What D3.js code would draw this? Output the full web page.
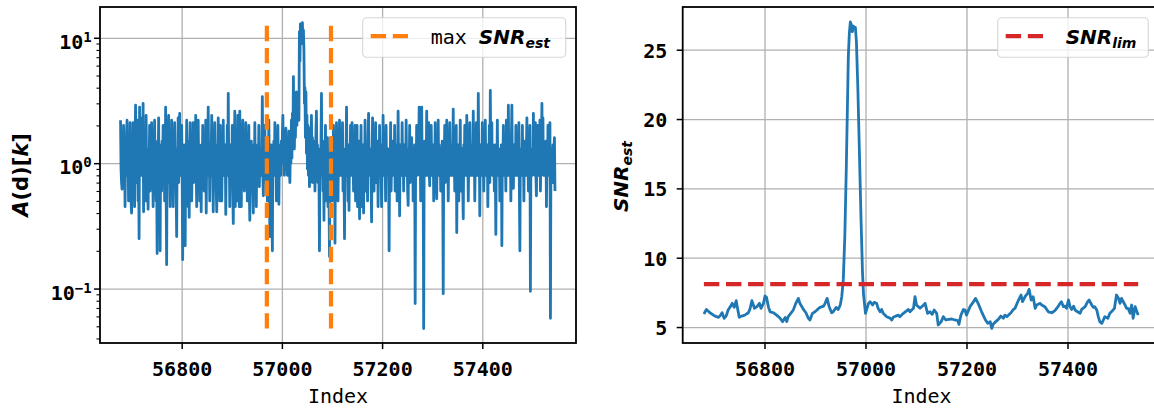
<!DOCTYPE html>
<html><head><meta charset="utf-8">
<script src="https://cdn.jsdelivr.net/npm/d3@7/dist/d3.min.js"></script>
<style>
body{margin:0;background:#fff}
svg{display:block}
</style></head><body>
<svg id="c" width="1154" height="409"></svg>
<script>
// ---------- data ----------
const ampStart = 56678;
const amplitude = [
2.2,.9,.7,.62,1.3,.8,2.0,.75,1.4,.45,1.2,.8,1.8,2.2,.8,1.4,.5,1.1,.55,2.1,
.9,.5,.4,1.2,.8,2.1,.85,1.3,.45,1.5,2.9,.9,1.4,.7,2.2,.5,1.2,.25,2.8,.8,
1.3,.8,2.3,.9,1.2,3.0,.41,1.4,.8,1.1,.5,2.4,.9,1.3,.8,.43,1.2,.8,2.0,.6,
1.2,.8,2.1,.9,1.4,.45,1.1,.8,2.2,.7,1.3,.5,1.0,.19,1.5,.8,2.3,.6,1.4,.2,
1.3,.8,.6,1.5,.9,2.0,.7,1.4,.5,1.1,2.8,.6,.155,1.3,.9,1.5,2.4,.7,1.2,.45,
1.4,.8,2.2,.8,1.5,.45,1.2,.8,2.1,.9,1.3,.6,.26,1.2,.8,2.3,.7,1.1,2.5,.9,
1.3,.8,2.0,.8,.17,1.2,.9,1.4,.6,.22,1.1,.8,2.2,.9,1.3,.45,1.5,.37,1.2,2.1,
.8,1.4,.5,1.1,.9,2.1,.7,1.3,.8,1.2,2.4,.9,.45,1.5,.8,2.2,.8,1.4,.5,1.3,
.9,.41,1.4,.8,2.0,.8,1.4,.6,1.1,.9,2.2,.4,1.3,.8,1.2,2.8,.8,1.4,.5,1.1,
.8,1.3,2.4,.8,1.2,.41,1.5,.8,2.1,.9,1.4,.6,.41,1.4,.8,2.3,.9,1.2,.5,2.0,
.8,1.3,.5,1.1,.9,2.2,.8,1.2,.8,1.4,.39,1.1,.8,2.0,.9,3.6,.8,1.2,.45,1.4,
.8,1.1,.9,2.0,.6,.33,1.3,.8,2.6,.45,1.2,.8,1.6,.5,2.4,.8,1.3,.45,2.6,.9,
1.2,.45,1.5,.8,2.2,.8,1.3,.6,1.1,.9,2.1,.8,1.2,.5,1.4,.8,2.0,.6,.35,1.3,
.8,1.5,.7,1.2,.6,.4,1.4,.8,2.1,.9,1.4,.45,1.3,.8,1.2,.8,2.0,.65,1.1,.9,
1.3,.8,1.2,3.4,.8,.55,1.4,.9,2.0,.7,1.4,.8,1.3,.5,1.1,.9,2.2,.7,.26,1.2,
.8,1.4,.6,.2,1.3,.9,1.5,.8,2.1,1.0,1.3,.5,1.2,.9,2.0,.8,.47,1.3,.9,1.4,
.8,1.5,1.1,1.7,2.4,1.0,1.4,.8,1.6,1.2,1.9,.9,1.3,.8,1.5,1.1,1.8,.9,.7,1.4,
1.0,2.2,1.1,2.5,1.4,4.9,1.8,1.3,2.8,1.6,3.2,3.7,2.0,3.4,2.4,3.0,2.2,11.2,6.5,12.9,
9.0,13.0,10.5,13.2,9.0,11.5,8.0,3.0,4.0,1.6,3.7,1.2,2.4,.9,2.0,.8,1.9,.65,1.8,.7,
1.3,2.4,.9,1.6,.7,1.2,.8,1.5,.6,1.1,1.8,2.6,.9,1.4,.7,1.2,.8,.2,1.3,.9,
1.4,3.6,.8,1.2,.6,1.1,.35,1.5,.7,2.0,.5,1.2,.8,1.6,.45,1.1,.6,.18,1.3,.7,
1.2,1.6,.5,1.3,.8,2.0,.6,1.1,.23,1.2,.8,2.1,.9,1.4,.5,1.3,.8,2.2,.8,1.2,
.8,1.4,.9,2.1,.6,1.1,.8,.25,1.3,.8,1.1,2.8,.8,1.2,.5,1.4,.42,1.3,.9,2.0,
.8,1.2,2.1,.8,1.4,.6,1.1,.9,2.0,.5,1.3,.8,2.0,.45,1.2,.8,1.5,.36,1.3,.8,
2.0,.45,1.2,.8,1.4,.4,1.1,.9,2.2,.6,1.3,.8,1.2,.5,1.5,2.5,.9,1.3,.8,1.1,
.8,.34,1.3,2.3,.9,1.4,.6,1.2,.8,2.1,.7,1.1,.9,1.5,.45,1.3,.8,2.0,.8,1.4,
.9,.45,1.2,.8,2.4,.9,1.5,.8,1.2,.5,2.0,.8,1.1,.8,1.3,.9,.2,1.2,.8,2.1,
.6,1.1,.9,1.5,.8,1.3,.8,2.0,.6,1.4,.9,1.4,.5,1.1,2.6,.8,1.2,.38,1.4,.9,
1.3,.8,2.1,.9,1.4,.6,1.4,.8,1.1,.8,2.2,.9,1.2,.6,.46,1.3,.8,2.0,.7,1.2,
.9,1.6,.8,1.3,.5,1.1,.8,1.4,.076,1.2,.8,2.0,.8,1.1,.9,1.3,2.8,.8,1.4,.5,
1.2,2.8,.9,1.3,.8,.048,1.1,1.5,.8,1.2,.9,2.6,.8,1.4,.8,2.1,.9,.66,1.3,.8,
2.0,.9,1.2,.8,1.4,.5,1.1,.9,2.1,.6,1.2,.52,1.5,.8,2.2,.8,1.4,.9,1.2,.6,
1.3,.8,1.5,.8,.091,1.2,.9,2.0,.7,1.1,.8,2.2,.9,1.3,.5,1.2,.8,2.1,.8,1.1,
.9,1.4,.8,1.2,2.7,.8,1.3,.6,1.1,.9,2.0,.28,1.2,.8,1.4,.5,1.1,.9,2.2,.6,
1.2,.8,1.3,.6,.36,1.4,.9,2.0,.8,1.5,.8,2.4,.9,1.3,.5,1.1,.8,2.1,.8,1.2,
.9,1.4,.8,1.2,2.6,.8,1.3,.5,1.1,.9,2.1,.8,1.2,.8,3.6,1.0,1.3,.38,1.4,.8,
1.2,.8,2.1,.9,1.1,.6,1.3,.8,2.2,.8,1.2,.9,1.4,.45,1.1,.8,2.0,.7,3.8,.9,
1.2,2.1,.8,1.3,.8,1.1,.6,1.4,.9,.27,1.2,.8,2.2,.8,1.1,.9,1.3,.5,1.2,.8,
1.4,.22,1.2,.8,2.0,.8,1.3,.9,1.1,.6,2.2,.8,1.2,.8,2.9,1.0,1.4,.8,1.2,.5,
1.5,2.9,.9,1.2,.63,1.4,.8,1.1,.8,2.0,.9,1.6,.8,1.2,.8,2.1,.6,.2,1.3,.9,
1.1,.8,2.0,.8,1.2,.5,1.5,.9,1.1,.8,1.3,2.3,.9,1.2,.6,1.1,.8,2.0,.095,1.2,
.8,1.3,.8,1.1,2.5,.9,1.4,.8,2.1,.8,.55,1.3,.9,2.0,.8,1.2,.8,2.2,.6,1.1,
1.3,3.0,.9,2.3,.8,1.4,.8,1.2,.9,1.5,.45,1.1,.8,2.0,.8,1.2,.9,2.1,.058,1.3,
.8,1.2,.7,1.4,.9,1.3,1.6,.6
];
const snrIndex = [
56680,56685,56692,56699,56705,56709,56713,56716,56720,56724,56728,56733,56736,56740,56744,56746,56750,56755,56761,56768,
56771,56775,56778,56780,56785,56790,56793,56798,56801,56804,56808,56811,56818,56824,56831,56836,56841,56844,56847,56852,
56857,56862,56867,56870,56874,56877,56882,56887,56890,56895,56900,56905,56910,56917,56920,56924,56928,56933,56936,56942,
56946,56950,56953,56956,56959,56962,56964,56966,56968,56970,56972,56974,56976,56978,56980,56982,56985,56988,56991,56994,
56996,57000,57006,57009,57014,57017,57022,57025,57029,57032,57035,57042,57049,57052,57055,57060,57065,57068,57075,57082,
57085,57088,57095,57098,57101,57108,57115,57118,57123,57128,57132,57136,57141,57144,57150,57154,57159,57165,57171,57177,
57183,57185,57189,57194,57197,57200,57207,57214,57218,57223,57230,57237,57242,57247,57250,57253,57258,57263,57268,57273,
57276,57280,57283,57288,57293,57296,57303,57308,57311,57316,57321,57324,57328,57332,57336,57339,57346,57349,57355,57362,
57369,57375,57382,57385,57388,57392,57395,57398,57402,57405,57408,57412,57415,57420,57425,57428,57435,57440,57443,57448,
57451,57454,57458,57461,57464,57468,57471,57474,57480,57484,57487,57493,57497,57501,57504,57507,57514,57517,57520,57524,
57527,57530,57534,57540
];
const snrValue = [
5.94,6.27,6.03,5.86,5.75,5.70,5.86,6.03,5.63,5.79,6.23,6.51,6.71,6.42,6.90,6.47,5.70,5.79,5.86,6.03,
6.27,6.90,6.59,6.35,6.47,6.71,6.35,6.71,7.24,7.14,6.42,6.10,6.03,5.86,5.63,5.39,5.70,5.39,5.75,5.99,
6.23,6.71,7.07,6.71,6.47,6.27,6.03,5.63,5.51,5.99,6.10,6.27,6.42,6.51,6.71,7.07,6.47,6.03,6.10,6.42,
6.27,6.59,7.19,8.4,11.5,16.5,20.5,24.5,26.2,27.0,26.8,26.3,26.7,26.6,26.6,25.6,22.0,17.5,13.0,9.0,
7.4,5.99,6.71,6.83,6.59,6.78,6.71,6.35,6.10,6.27,5.99,5.75,5.63,5.51,5.70,5.79,5.86,5.75,5.99,6.18,
6.27,6.10,6.35,7.19,6.59,6.35,6.59,6.71,5.99,6.10,5.92,6.23,5.99,5.15,5.39,5.75,5.51,5.55,5.58,5.51,
5.46,5.19,5.86,6.27,6.23,5.86,6.47,6.83,7.07,6.71,6.10,5.55,5.27,5.39,4.9,5.22,5.39,5.55,5.79,5.63,
5.86,5.75,5.86,6.03,6.27,6.35,6.95,7.31,6.83,7.19,7.43,7.72,6.95,7.19,6.35,6.59,6.71,6.59,6.47,6.10,
6.03,6.18,6.51,6.71,6.83,6.47,6.51,6.35,6.95,6.47,6.27,6.51,6.23,6.10,5.99,6.27,6.47,6.83,6.95,6.59,
6.42,6.47,6.23,5.75,5.39,5.27,5.51,5.75,5.63,5.99,6.10,6.35,7.31,7.07,6.71,7.07,6.59,6.35,6.35,5.99,
6.59,5.63,6.47,5.86
];
const maxSnrLines = [56970, 57098];
const snrLimit = 8.1;
const xTickValues = [56800, 57000, 57200, 57400];
const logTickValues = [0.1, 1, 10];
const logTickExponents = ["\u22121", "0", "1"];
const snrTickValues = [5, 10, 15, 20, 25];
const legendLeftPrefix = "max ";
const legendLeftMath = ["SNR", "est"];
const legendRightMath = ["SNR", "lim"];
const xLabel = "Index";

// ---------- style ----------
const BLUE = "#1f77b4", ORANGE = "#ff7f0e", RED = "#d62728", GRID = "#b0b0b0";
const MONO = "'DejaVu Sans Mono', monospace";
const SANS = "'DejaVu Sans', sans-serif";
const DASH = "15.4,6.7";

const svg = d3.select("#c");

// ---------- panel geometry ----------
const L = {x0: 100, x1: 576, y0: 7, y1: 343};
const R = {x0: 682.7, x1: 1160.4, y0: 7, y1: 343};

const xL = d3.scaleLinear().domain([56637, 57587]).range([L.x0, L.x1]);
const yL = d3.scaleLog().domain([0.0368, 17.6]).range([L.y1, L.y0]);
const xR = d3.scaleLinear().domain([56638, 57584]).range([R.x0, R.x1]);
const yR = d3.scaleLinear().domain([3.85, 28.08]).range([R.y1, R.y0]);

const defs = svg.append("defs");
[["clipL", L], ["clipR", R]].forEach(([id, P]) => {
  defs.append("clipPath").attr("id", id).append("rect")
    .attr("x", P.x0).attr("y", P.y0).attr("width", P.x1 - P.x0).attr("height", P.y1 - P.y0);
});

function styleAxis(g, w) {
  g.select(".domain").remove();
  g.selectAll(".tick line").attr("stroke", "#000").attr("stroke-width", w);
}
function grid(g) {
  g.select(".domain").remove();
  g.selectAll(".tick line").attr("stroke", GRID).attr("stroke-width", 1.3);
  g.selectAll(".tick text").remove();
}

// ===== LEFT PANEL =====
svg.append("g").attr("transform", `translate(0,${L.y1})`)
  .call(d3.axisBottom(xL).tickValues(xTickValues).tickSize(-(L.y1 - L.y0)).tickFormat(""))
  .call(grid);
svg.append("g").attr("transform", `translate(${L.x0},0)`)
  .call(d3.axisLeft(yL).tickValues(logTickValues).tickSize(-(L.x1 - L.x0)).tickFormat(""))
  .call(grid);

const ampIdx = amplitude.map((v, i) => ampStart + i);
const lineL = d3.line().x((d, i) => xL(ampIdx[i])).y(d => yL(d));
svg.append("path").datum(amplitude).attr("clip-path", "url(#clipL)")
  .attr("d", lineL).attr("fill", "none").attr("stroke", BLUE)
  .attr("stroke-width", 2.8).attr("stroke-linejoin", "round");

const aMin = d3.min(amplitude), aMax = d3.max(amplitude);
svg.append("g").selectAll("line").data(maxSnrLines).join("line")
  .attr("x1", d => xL(d)).attr("x2", d => xL(d))
  .attr("y1", yL(aMin)).attr("y2", yL(aMax))
  .attr("stroke", ORANGE).attr("stroke-width", 4.2).attr("stroke-dasharray", DASH);

svg.append("g").attr("transform", `translate(0,${L.y1})`)
  .call(d3.axisBottom(xL).tickValues(xTickValues).tickSize(6).tickFormat(d3.format("d")))
  .call(g => styleAxis(g, 1.5))
  .call(g => g.selectAll(".tick text").attr("font-family", MONO).attr("font-weight", "bold")
     .attr("font-size", 20).attr("fill", "#000").attr("dy", null).attr("y", 33));

svg.append("g").attr("transform", `translate(${L.x0},0)`)
  .call(d3.axisLeft(yL).tickValues(logTickValues).tickSize(6).tickFormat(""))
  .call(g => styleAxis(g, 1.5))
  .call(g => g.selectAll(".tick").each(function(d, i) {
      const t = d3.select(this).append("text").attr("x", -8.3).attr("y", 0)
        .attr("text-anchor", "end").attr("fill", "#000")
        .attr("font-family", MONO).attr("font-weight", "bold");
      t.append("tspan").attr("font-size", 20).attr("dy", 10.5).text("10");
      t.append("tspan").attr("font-size", 14).attr("dy", -7).text(logTickExponents[i]);
  }));
const minorVals = yL.ticks().filter(v => !logTickValues.some(m => Math.abs(m - v) < 1e-9));
svg.append("g").attr("transform", `translate(${L.x0},0)`)
  .call(d3.axisLeft(yL).tickValues(minorVals).tickSize(3.5).tickFormat(""))
  .call(g => styleAxis(g, 1.1));

svg.append("rect").attr("x", L.x0).attr("y", L.y0).attr("width", L.x1 - L.x0).attr("height", L.y1 - L.y0)
  .attr("fill", "none").attr("stroke", "#000").attr("stroke-width", 1.8);

svg.append("text").attr("x", (L.x0 + L.x1) / 2).attr("y", 403).attr("text-anchor", "middle")
  .attr("font-family", MONO).attr("font-size", 20).attr("fill", "#000").text(xLabel);
{
  const t = svg.append("text").attr("transform", `translate(28,${(L.y0 + L.y1) / 2}) rotate(-90)`)
    .attr("text-anchor", "middle").attr("font-family", SANS).attr("font-weight", "bold")
    .attr("font-size", 21).attr("fill", "#000");
  t.append("tspan").attr("font-style", "italic").text("A");
  t.append("tspan").text("(d)[");
  t.append("tspan").attr("font-style", "italic").text("k");
  t.append("tspan").text("]");
}

function legend(box, color, prefix, math) {
  const g = svg.append("g");
  g.append("rect").attr("x", box.x).attr("y", box.y).attr("width", box.w).attr("height", box.h)
    .attr("rx", 4).attr("fill", "#fff").attr("fill-opacity", 0.8)
    .attr("stroke", "#cccccc").attr("stroke-opacity", 0.8).attr("stroke-width", 1.1);
  g.append("line").attr("x1", box.x + 8).attr("x2", box.x + 45.3)
    .attr("y1", box.y + 18.5).attr("y2", box.y + 18.5)
    .attr("stroke", color).attr("stroke-width", 4.2).attr("stroke-dasharray", DASH);
  const t = g.append("text").attr("x", box.tx).attr("y", box.y + 26)
    .attr("font-size", 20).attr("fill", "#000");
  if (prefix) t.append("tspan").attr("font-family", MONO).attr("xml:space", "preserve").text(prefix);
  t.append("tspan").attr("font-family", SANS).attr("font-weight", "bold").attr("font-style", "italic").text(math[0]);
  t.append("tspan").attr("font-family", SANS).attr("font-weight", "bold").attr("font-style", "italic")
    .attr("font-size", 14).attr("dy", 4).text(math[1]);
}
legend({x: 362.7, y: 17.7, w: 203, h: 39.6, tx: 430.7}, ORANGE, legendLeftPrefix, legendLeftMath);

// ===== RIGHT PANEL =====
svg.append("g").attr("transform", `translate(0,${R.y1})`)
  .call(d3.axisBottom(xR).tickValues(xTickValues).tickSize(-(R.y1 - R.y0)).tickFormat(""))
  .call(grid);
svg.append("g").attr("transform", `translate(${R.x0},0)`)
  .call(d3.axisLeft(yR).tickValues(snrTickValues).tickSize(-(R.x1 - R.x0)).tickFormat(""))
  .call(grid);

const lineR = d3.line().x((d, i) => xR(snrIndex[i])).y(d => yR(d));
svg.append("path").datum(snrValue).attr("clip-path", "url(#clipR)")
  .attr("d", lineR).attr("fill", "none").attr("stroke", BLUE)
  .attr("stroke-width", 2.8).attr("stroke-linejoin", "round");

svg.append("line").attr("x1", xR(d3.min(snrIndex))).attr("x2", xR(d3.max(snrIndex)))
  .attr("y1", yR(snrLimit)).attr("y2", yR(snrLimit))
  .attr("stroke", RED).attr("stroke-width", 4.2).attr("stroke-dasharray", DASH);

svg.append("g").attr("transform", `translate(0,${R.y1})`)
  .call(d3.axisBottom(xR).tickValues(xTickValues).tickSize(6).tickFormat(d3.format("d")))
  .call(g => styleAxis(g, 1.5))
  .call(g => g.selectAll(".tick text").attr("font-family", MONO).attr("font-weight", "bold")
     .attr("font-size", 20).attr("fill", "#000").attr("dy", null).attr("y", 33));

svg.append("g").attr("transform", `translate(${R.x0},0)`)
  .call(d3.axisLeft(yR).tickValues(snrTickValues).tickSize(6).tickFormat(d3.format("d")))
  .call(g => styleAxis(g, 1.5))
  .call(g => g.selectAll(".tick text").attr("font-family", MONO).attr("font-weight", "bold")
     .attr("font-size", 20).attr("fill", "#000").attr("dy", null).attr("y", 7.4).attr("x", -15.3));

svg.append("rect").attr("x", R.x0).attr("y", R.y0).attr("width", R.x1 - R.x0).attr("height", R.y1 - R.y0)
  .attr("fill", "none").attr("stroke", "#000").attr("stroke-width", 1.8);

svg.append("text").attr("x", (R.x0 + R.x1) / 2).attr("y", 403).attr("text-anchor", "middle")
  .attr("font-family", MONO).attr("font-size", 20).attr("fill", "#000").text(xLabel);
{
  const t = svg.append("text").attr("transform", `translate(628,${(R.y0 + R.y1) / 2 + 1.5}) rotate(-90)`)
    .attr("text-anchor", "middle").attr("font-family", SANS).attr("font-weight", "bold")
    .attr("font-style", "italic").attr("font-size", 20).attr("fill", "#000");
  t.append("tspan").text("SNR");
  t.append("tspan").attr("font-size", 14).attr("dy", 4).text("est");
}

legend({x: 997.7, y: 17.7, w: 150.6, h: 39.6, tx: 1065.7}, RED, null, legendRightMath);
</script>
</body></html>
